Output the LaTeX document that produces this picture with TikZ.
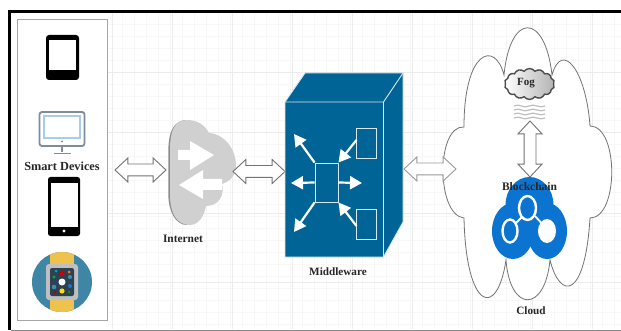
\documentclass[tikz,border=0pt]{standalone}
\usepackage{fontspec}
\setmainfont{Liberation Serif}
\usetikzlibrary{shapes.arrows,shapes.symbols,arrows.meta}
\definecolor{boxblue}{HTML}{006496}
\definecolor{cloudblue}{HTML}{0B74D0}
\definecolor{netgray}{HTML}{CFD0CF}
\definecolor{gridminor}{HTML}{F7F7F7}
\definecolor{gridmajor}{HTML}{ECECEC}
\definecolor{frameedge}{HTML}{8A8A8A}
\definecolor{watchblue}{HTML}{3F86A6}
\definecolor{watchstrap}{HTML}{EFC24E}
\definecolor{watchface}{HTML}{2E4152}
\definecolor{monedge}{HTML}{7E8C9C}
\definecolor{monscreen}{HTML}{A9CBEE}
\tikzset{
  lbl/.style={font=\bfseries\fontsize{#1}{#1}\selectfont,text=black!85,inner sep=0pt},
  twoway/.style={double arrow,draw=#1,fill=white,line width=.9pt,inner xsep=0pt,inner ysep=5.5pt,
     double arrow head extend=6pt,double arrow tip angle=86},
  boxline/.style={draw=white!85!boxblue,line width=.9pt},
  wharrow/.style={white,line width=2.2pt,-{Triangle[length=12pt,width=13pt]}},
  wave/.style={line width=1.2pt,draw=gray,opacity=.5}
}
\begin{document}
\begin{tikzpicture}[x=1pt,y=-1pt]
\useasboundingbox (0,0) rectangle (621,331);
\fill[white] (0,0) rectangle (621,331);
% grid
\foreach \x in {122,134,...,620}{\draw[gridminor,line width=.4pt] (\x,13)--(\x,329);}
\foreach \y in {24,36,...,328}{\draw[gridminor,line width=.4pt] (108,\y)--(621,\y);}
\foreach \x in {112,172,232,292,352,412,472,532,592}{\draw[gridmajor,line width=.5pt] (\x,13)--(\x,329);}
\foreach \y in {72,132,213,282}{\draw[gridmajor,line width=.5pt] (108,\y)--(621,\y);}
% frame
\draw[black,line width=2.6pt] (621,11.5)--(9.5,11.5)--(9.5,330);
\draw[frameedge,line width=.8pt] (11,330)--(621,330);
% devices panel
\node[draw=black!35,fill=white,line width=.7pt,minimum width=90pt,minimum height=300.5pt,inner sep=0pt] (panel) at (62,169.8) {};
% tablet
\fill[black,rounded corners=3pt] (46,35) rectangle (79,80);
\fill[white] (49,40) rectangle (76,70);
% monitor
\draw[line width=1.2pt,draw=monedge] (62,146)--(62,152);
\draw[line width=1.4pt,draw=monedge] (54,153.5)--(71,153.5);
\draw[draw=monedge,fill=white,rounded corners=2.5pt,line width=1.8pt] (39.5,112) rectangle (84.5,146);
\draw[draw=monscreen,fill=white,line width=1.2pt] (44,116) rectangle (80,138);
\fill[monedge] (62,141.5) circle (1.1);
\node[lbl=12.3] (smart) at (62,166) {Smart Devices};
% phone
\fill[black,rounded corners=2.5pt] (48,177) rectangle (80,236);
\fill[white] (50.5,183) rectangle (77.5,227);
\fill[white] (64,231) circle (1.7);
% watch
\fill[watchblue] (62,282) circle (30);
\begin{scope}
\clip (62,282) circle (30);
\fill[watchstrap] (50,250) rectangle (74,314);
\end{scope}
\fill[black!25,rounded corners=3pt] (46,264) rectangle (78,300);
\fill[watchface,rounded corners=2pt] (50,268) rectangle (74,296);
\fill[white] (62,282) circle (3.5);
\fill[red!80!black] (62,273) circle (2.6);
\fill[yellow!80!orange] (62,291) circle (2.6);
\fill[cyan!70!black] (70,277) circle (2);
\fill[cyan!70!black] (54,287) circle (2.3);
\fill[teal!70!green] (54,277) circle (1.6);
\fill[orange] (69,272) circle (1.5);
\fill[cyan!60!blue] (70,286) circle (2);
\fill[red!70!black] (55,292) circle (1.5);
\fill[green!60!black] (69,292) circle (1.5);
\fill[cyan!50!green] (56,271) circle (1.5);
% arrow 1
\node[twoway=black!55,minimum height=51pt] (a1) at (140.5,170) {};
% internet cloud
\fill[black!45] (168.4,150) .. controls (168.4,130) and (175,120) .. (187,120)
  -- (187,225) .. controls (176,225) and (168.4,212) .. (168.4,195) -- cycle;
\fill[netgray] (170,150) .. controls (170,130) and (175,120) .. (187,120)
  .. controls (197,120) and (205,125) .. (209,133) .. controls (225,134) and (236,150) .. (236,165)
  .. controls (236,175) and (231,181) .. (222,184) .. controls (225,196) and (218,206) .. (206,206)
  .. controls (204,217) and (198,225) .. (190,225) .. controls (176,225) and (170,212) .. (170,195) -- cycle;
\fill[white] (178,150) -- (190,150) -- (190,141) -- (214,155) -- (190,170) -- (190,160) -- (178,160) -- cycle;
\fill[white] (179,185) -- (203,170) -- (203,179) -- (222,179) -- (222,190) -- (203,190) -- (203,199) -- cycle;
\node[lbl=11.4] (internet) at (183,239) {Internet};
% arrow 2
\node[twoway=black!55,minimum height=52pt] (a2) at (259,171.5) {};
% middleware box
\path[fill=boxblue] (285,102) -- (305,73) -- (403,73) -- (403,222) -- (383.5,257) -- (285,257) -- cycle;
\draw[boxline] (285,102) -- (305,73) -- (403,73) -- (403,222) -- (383.5,257) -- (285,257) -- cycle;
\draw[boxline] (285,102) -- (383.5,102) -- (403,73);
\draw[boxline] (383.5,102) -- (383.5,257);
\node[boxline,minimum width=23pt,minimum height=39pt,inner sep=0pt] (hub) at (326.5,182.5) {};
\node[boxline,minimum width=19.5pt,minimum height=30pt,inner sep=0pt] (s1) at (366.5,143) {};
\node[boxline,minimum width=19.5pt,minimum height=30pt,inner sep=0pt] (s2) at (366.5,224) {};
\coordinate (o1) at (294,134);
\coordinate (o2) at (291,183);
\coordinate (o3) at (362,183);
\coordinate (o4) at (294,232);
\coordinate (i1) at (356.5,140);
\coordinate (i2) at (356.5,226);
\draw[wharrow] (hub.north west) -- (o1);
\draw[wharrow] (hub.west) -- (o2);
\draw[wharrow] (hub.east) -- (o3);
\draw[wharrow] (hub.south west) -- (o4);
\draw[wharrow] (i1) -- (hub.north east);
\draw[wharrow] (i2) -- (hub.south east);
\node[lbl=11.2] (middleware) at (338,272) {Middleware};
% big cloud
\path[fill=white,draw=black!55,line width=.8pt] (504,75)
  .. controls (510,12) and (545,12) .. (552,75)
  .. controls (562,40) and (586,70) .. (590,126)
  .. controls (619,126) and (619,218) .. (590,218)
  .. controls (585,300) and (560,300) .. (550,260)
  .. controls (545,313) and (510,313) .. (506,260)
  .. controls (497,320) and (466,310) .. (464,218)
  .. controls (436,215) and (436,125) .. (464,127)
  .. controls (464,50) and (495,40) .. (504,75) -- cycle;
% arrow 3
\node[twoway=black!40,minimum height=52pt] (a3) at (430,169) {};
% fog
\node[cloud,cloud puffs=14,cloud puff arc=110,aspect=1.7,draw=black!70,line width=1.4pt,
  left color=white,right color=black!30,minimum width=50pt,minimum height=31pt,inner sep=0pt] (fogc) at (529.5,84) {};
\node[lbl=11] (fog) at (526,83) {Fog};
\foreach \y in {106,110,114,118}{
  \draw[wave] (514,\y) .. controls (519,\y-3) and (524,\y+3) .. (529,\y) .. controls (534,\y-3) and (540,\y+3) .. (545,\y);}
% blue cloud
\fill[cloudblue] (529.5,205) ellipse (24 and 28);
\fill[cloudblue] (513,231) ellipse (21 and 28);
\fill[cloudblue] (547,231) ellipse (20 and 28);
\draw[white,line width=1.8pt] (515,224) -- (523,216);
\draw[white,line width=1.8pt] (535,216) -- (545,227);
\draw[white,fill=cloudblue,line width=2.4pt] (527.5,208) ellipse (8.5 and 12);
\draw[white,fill=cloudblue,line width=2.4pt] (510,231) ellipse (7.5 and 11.5);
\fill[white] (547,231) ellipse (9 and 12);
% fog-to-blockchain arrow
\node[twoway=black!55,inner xsep=5.5pt,inner ysep=0pt,shape border rotate=90,minimum height=56pt] (a4) at (530,149) {};
\node[lbl=11.5] (blockchain) at (529.5,187) {Blockchain};
\node[lbl=11.2] (cloud) at (531,311) {Cloud};
\end{tikzpicture}
\end{document}
